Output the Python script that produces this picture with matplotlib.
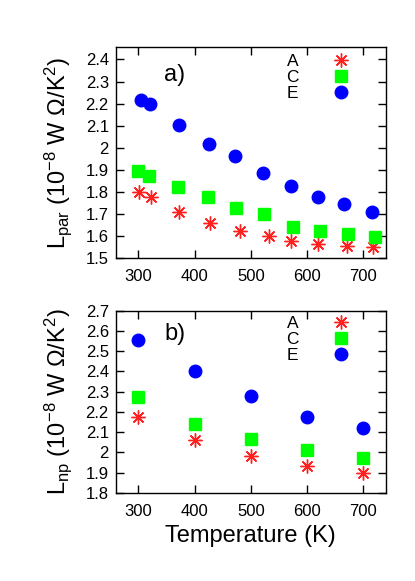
import matplotlib
matplotlib.use('Agg')
import matplotlib.pyplot as plt
from matplotlib.ticker import FuncFormatter

plt.rcParams['font.family'] = ['Liberation Sans', 'DejaVu Sans']
plt.rcParams['mathtext.fontset'] = 'custom'
plt.rcParams['mathtext.rm'] = 'Liberation Sans'
plt.rcParams['mathtext.it'] = 'Liberation Sans:italic'

# panel a) L_par
tA_par = [302, 322, 373, 428, 480, 532, 571, 620, 670, 717]
lA_par = [1.800, 1.776, 1.708, 1.660, 1.622, 1.600, 1.580, 1.565, 1.557, 1.550]
tC_par = [299, 319, 371, 423, 474, 524, 575, 623, 673, 721]
lC_par = [1.895, 1.874, 1.823, 1.776, 1.726, 1.700, 1.643, 1.625, 1.609, 1.598]
tE_par = [304, 321, 373, 426, 472, 521, 571, 620, 666, 716]
lE_par = [2.216, 2.197, 2.103, 2.016, 1.964, 1.887, 1.827, 1.776, 1.746, 1.708]

# panel b) L_np
t_np = [300, 400, 500, 600, 700]
lA_np = [2.177, 2.062, 1.983, 1.935, 1.900]
lC_np = [2.276, 2.141, 2.068, 2.011, 1.972]
lE_np = [2.556, 2.400, 2.281, 2.176, 2.120]

labels = ['A', 'C', 'E']
xticks = [300, 400, 500, 600, 700]

fig = plt.figure(figsize=(4.15, 5.81), dpi=100)
ax1 = fig.add_axes([0.279, 0.5554, 0.651, 0.3632])
ax2 = fig.add_axes([0.279, 0.1515, 0.651, 0.3137])

def draw(ax, tA, lA, tC, lC, tE, lE, leg_y):
    ax.plot(tA, lA, ls='none', marker=(8, 2, 0), ms=10, mec='#ff2020', mew=1.0, label=labels[0])
    ax.plot(tC, lC, ls='none', marker='s', ms=8, mfc='#00ff00', mec='#00ff00', label=labels[1])
    ax.plot(tE, lE, ls='none', marker='o', ms=9, mfc='#0000ff', mec='#0000ff', label=labels[2])
    ax.set_xlim(260, 740)
    ax.set_xticks(xticks)
    ax.tick_params(direction='in', top=True, right=True, length=5.5, width=1,
                   labelsize=12, pad=5)
    ax.tick_params(axis='x', pad=8)
    ax.yaxis.set_major_formatter(FuncFormatter(lambda v, p: '%g' % round(v, 2)))
    for s in ax.spines.values():
        s.set_linewidth(1)
    ax.legend(loc='upper right', bbox_to_anchor=(0.9, leg_y), frameon=False,
              markerfirst=False, fontsize=12.5, handlelength=2.1, handletextpad=1.4,
              borderpad=0, borderaxespad=0, labelspacing=0.05)

draw(ax1, tA_par, lA_par, tC_par, lC_par, tE_par, lE_par, 0.968)
ax1.set_ylim(1.5, 2.455)
ax1.set_yticks([1.5, 1.6, 1.7, 1.8, 1.9, 2.0, 2.1, 2.2, 2.3, 2.4])
ax1.set_ylabel(r'$\mathregular{L_{par}}$ (10$^{-8}$ W Ω/K$^2$)', fontsize=17)
ax1.yaxis.set_label_coords(-0.155, 0.5)
ax1.text(0.18, 0.87, 'a)', transform=ax1.transAxes, fontsize=17, va='center')

draw(ax2, t_np, lA_np, t_np, lC_np, t_np, lE_np, 0.97)
ax2.set_ylim(1.8, 2.7)
ax2.set_yticks([1.8, 1.9, 2.0, 2.1, 2.2, 2.3, 2.4, 2.5, 2.6, 2.7])
ax2.set_ylabel(r'$\mathregular{L_{np}}$ (10$^{-8}$ W Ω/K$^2$)', fontsize=17)
ax2.yaxis.set_label_coords(-0.155, 0.5)
ax2.text(0.18, 0.87, 'b)', transform=ax2.transAxes, fontsize=17, va='center')
ax2.set_xlabel('Temperature (K)', fontsize=17, labelpad=4)

fig.savefig('out.png', dpi=100)
